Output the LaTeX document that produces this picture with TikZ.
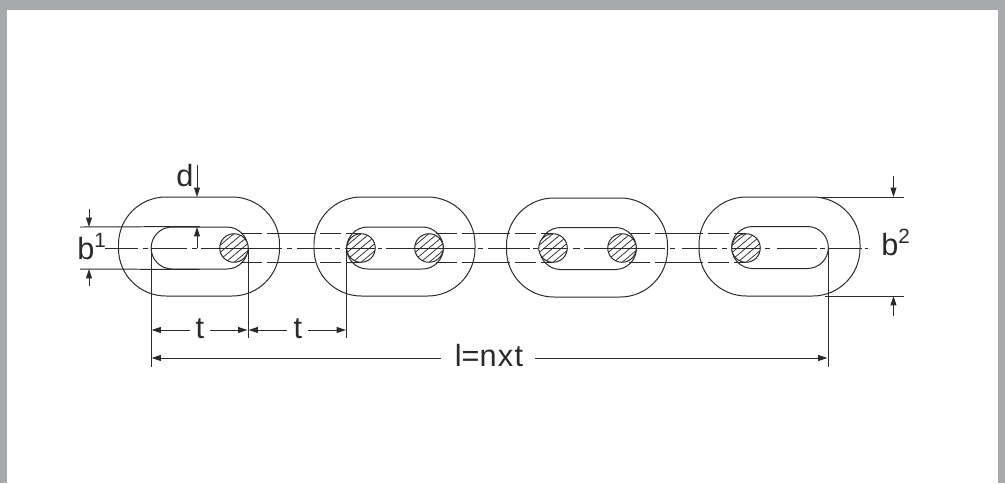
\documentclass[tikz,border=0pt]{standalone}
\usepackage{fontspec}
\setmainfont{Liberation Sans}
\usetikzlibrary{arrows.meta}
\definecolor{ink}{HTML}{2A2A2A}
\definecolor{framegray}{HTML}{A7A9AC}
\newcommand{\supb}[1]{b\raisebox{8.6pt}{\fontsize{15.5}{16}\selectfont #1}}
\tikzset{
  x=0.75pt,y=-0.75pt,
  ln/.style={line width=0.74pt,draw=ink},
  outerlink/.style={ln,rectangle,rounded corners=35.5pt,inner sep=0pt,minimum width=120.75pt,minimum height=74.25pt},
  slot/.style={ln,rectangle,rounded corners=15.7pt,inner sep=0pt,minimum width=72.5pt,minimum height=31.5pt},
  pin/.style={ln,circle,inner sep=0pt,minimum size=21.4pt,fill=white,
    path picture={
      \foreach \k in {-5,...,5}{
        \draw[line width=0.55pt,draw=ink]
          ([shift={(-30,{\k*7.2+25.2})}]path picture bounding box.center) -- ++(60,-50.4);
      }
    }},
  lab/.style={anchor=base,inner sep=0pt,text=ink,font=\fontsize{23}{24}\selectfont},
  dashbar/.style={ln,dash pattern=on 16.2pt off 3.6pt,shorten <=5pt},
  dim/.style={ln,-{Triangle[length=7pt,width=4.4pt]}},
}
\begin{document}
\begin{tikzpicture}
\useasboundingbox (0,0) rectangle (1005,483);
\fill[framegray] (0,0) rectangle (1005,483);
\fill[white] (7,10) rectangle (998,490);

% links
\node[outerlink] (L1) at (199,246.5) {};
\node[outerlink] (L2) at (394.5,246.5) {};
\node[outerlink] (L3) at (587,247.5) {};
\node[outerlink] (L4) at (779.5,246.5) {};
\node[slot] (S1) at (199.5,248) {};
\node[slot] (S2) at (395,248) {};
\node[slot] (S3) at (588,248.5) {};
\node[slot] (S4) at (780,247.5) {};

% pins
\node[pin] (P1) at (234,248) {};
\node[pin] (P2) at (361,248) {};
\node[pin] (P3) at (429,248) {};
\node[pin] (P4) at (553,248) {};
\node[pin] (P5) at (622,248) {};
\node[pin] (P6) at (746,248) {};

% bars between the links
\foreach \pa/\la/\lb/\pb in {P1/L1/L2/P2,P3/L2/L3/P4,P5/L3/L4/P6}{
  \foreach \side in {north,south}{
    \draw[dashbar] (\pa.\side) -- (\pb.\side);
    \draw[ln] (\pa.\side -| \la.east) -- (\pa.\side -| \lb.west);
  }
}

% centre line
\foreach \a/\b in {105/138,143/148,152/187,192/197,201/282,287/292,297/332,335/340,345/375,
  378/382,386/475,478/483,488/530,533/538,543/568,573/580,584/665,670/675,682/717,722/727,
  731/760,765/770,777/817,820/825,828/862,865/868}{
  \draw[ln] (\a,248) -- (\b,248);
}

% b1 dimension
\coordinate (B1a) at (80,227);
\coordinate (B1b) at (80,269);
\coordinate (B1at) at (89,209);
\coordinate (B1ah) at (89,227);
\coordinate (B1bt) at (89,286);
\coordinate (B1bh) at (89,269);
\draw[ln] (B1a) -- (S1.north);
\draw[ln] (B1b) -- (S1.south);
\draw[dim] (B1at) -- (B1ah);
\draw[dim] (B1bt) -- (B1bh);
\node[lab,anchor=base west] (tb1) at (77,259) {\supb{1}};

% d dimension
\coordinate (Dt) at (197,165);
\coordinate (Dh) at (197,197);
\coordinate (Dit) at (197,248);
\coordinate (Dih) at (197,227);
\draw[dim] (Dt) -- (Dh);
\draw[dim] (Dit) -- (Dih);
\node[lab] (td) at (185,186) {d};

% b2 dimension
\coordinate (B2a) at (820,197);
\coordinate (B2ae) at (904,197);
\coordinate (B2b) at (825,296);
\coordinate (B2be) at (904,296);
\coordinate (B2at) at (893.5,176);
\coordinate (B2ah) at (893.5,197);
\coordinate (B2bt) at (893.5,316);
\coordinate (B2bh) at (893.5,296);
\draw[ln] (B2a) -- (B2ae);
\draw[ln] (B2b) -- (B2be);
\draw[dim] (B2at) -- (B2ah);
\draw[dim] (B2bt) -- (B2bh);
\node[lab,anchor=base west] (tb2) at (881,255) {\supb{2}};

% pitch extension lines
\coordinate (X1t) at (151,248);
\coordinate (X1b) at (151,367);
\coordinate (X2t) at (248,248);
\coordinate (X2b) at (248,338);
\coordinate (X3t) at (346.5,248);
\coordinate (X3b) at (346.5,338);
\coordinate (X4t) at (828,248);
\coordinate (X4b) at (828,367);
\draw[ln] (X1t) -- (X1b);
\draw[ln] (X2t) -- (X2b);
\draw[ln] (X3t) -- (X3b);
\draw[ln] (X4t) -- (X4b);

% pitch dimensions
\coordinate (T1a) at (151.5,330);
\coordinate (T1b) at (247.5,330);
\coordinate (T2a) at (248.5,330);
\coordinate (T2b) at (346,330);
\coordinate (Na) at (151.5,358);
\coordinate (Nb) at (827.5,358);
\node[lab] (tt1) at (200,338) {t};
\node[lab] (tt2) at (298,338) {t};
\node[lab] (tl) at (489,366.5) {l=n\kern1pt x\kern1pt t};
\draw[dim] (190,330) -- (T1a);
\draw[dim] (210,330) -- (T1b);
\draw[dim] (287,330) -- (T2a);
\draw[dim] (308,330) -- (T2b);
\draw[dim] (441,358) -- (Na);
\draw[dim] (535,358) -- (Nb);
\end{tikzpicture}
\end{document}
